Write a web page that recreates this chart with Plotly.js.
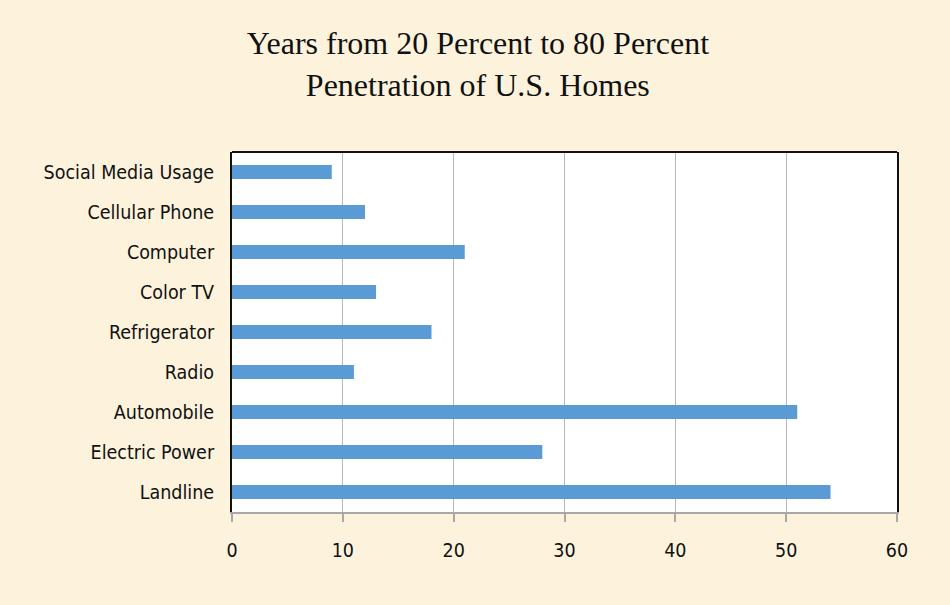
<!DOCTYPE html>
<html><head><meta charset="utf-8">
<script src="https://cdn.plot.ly/plotly-3.0.1.min.js"></script>
<style>html,body{margin:0;padding:0;background:#FDF3DD;}</style>
</head><body>
<div id="chart" style="width:950px;height:605px;"></div>
<script>
const categories = ["Landline","Electric Power","Automobile","Radio","Refrigerator","Color TV","Computer","Cellular Phone","Social Media Usage"];
const years = [54, 28, 51, 11, 18, 13, 21, 12, 9];
const xTicks = [0,10,20,30,40,50,60];

const labelFont = {family: "'DejaVu Sans Condensed', 'Liberation Sans Narrow', 'Roboto', sans-serif", size: 19.5, color: '#111'};

Plotly.newPlot('chart', [{
  type: 'bar', orientation: 'h',
  y: categories, x: years,
  marker: {color: '#5B9BD5'},
  hoverinfo: 'none'
}], {
  width: 950, height: 605,
  paper_bgcolor: '#FDF3DD', plot_bgcolor: '#FFFFFF',
  margin: {l: 232, r: 53, t: 152, b: 93},
  bargap: 0.65,
  showlegend: false,
  title: {
    text: 'Years from 20 Percent to 80 Percent<br>Penetration of U.S. Homes',
    font: {family: "'Liberation Serif', 'DejaVu Serif', serif", size: 32, color: '#111'},
    x: 0.503, xanchor: 'center', y: 0.91, yanchor: 'top'
  },
  xaxis: {
    range: [0, 60], tickvals: xTicks, ticktext: xTicks.map(String),
    showgrid: true, gridcolor: '#B8B8B8', gridwidth: 1,
    zeroline: false,
    showline: true, linecolor: '#A8A8A8', linewidth: 2,
    ticks: 'outside', ticklen: 8, tickcolor: '#A8A8A8', tickwidth: 2,
    ticklabelstandoff: 12,
    tickfont: labelFont, fixedrange: true
  },
  yaxis: {
    type: 'category', categoryorder: 'array', categoryarray: categories,
    range: [-0.5, 8.5],
    showgrid: false, zeroline: false,
    showline: true, mirror: true, linecolor: '#111', linewidth: 2,
    ticks: 'outside', ticklen: 12, tickcolor: 'rgba(0,0,0,0)',
    tickfont: labelFont, fixedrange: true
  },
  shapes: [{
    type: 'line', xref: 'paper', yref: 'paper', x0: 0, x1: 1, y0: 1, y1: 1,
    line: {color: '#111', width: 2}
  }]
}, {displayModeBar: false, staticPlot: true});
</script>
</body></html>
